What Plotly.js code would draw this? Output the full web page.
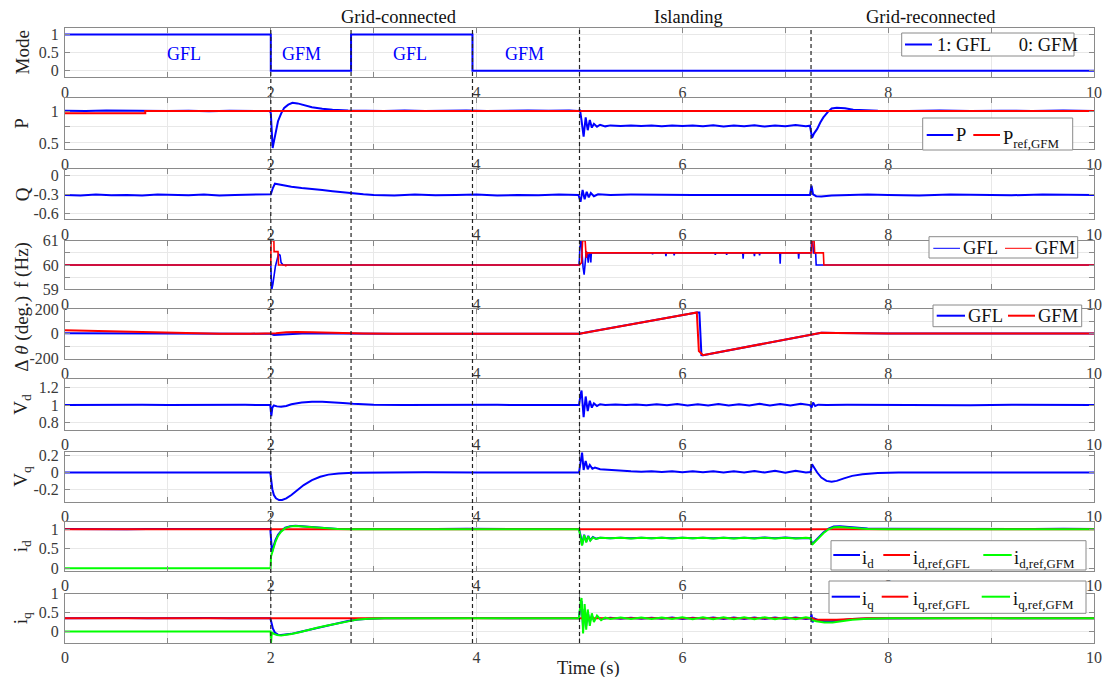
<!DOCTYPE html>
<html>
<head>
<meta charset="utf-8">
<script src="https://cdn.plot.ly/plotly-3.0.1.min.js"></script>
<style>
  html, body { margin: 0; padding: 0; background: #fff; }
  #chart { width: 1102px; height: 677px; }
</style>
</head>
<body>
<div id="chart"></div>
<script>
// ---- Series data: [time (s), value] ----
const modeSig = [[0,1],[2.0,1],[2.0,0],[2.78,0],[2.78,1],[3.96,1],[3.96,0],[10,0]];

const pMeas = [[0,1.005],[0.2,1.0],[0.4,1.008],[0.6,1.002],[0.8,1.005],[1.0,1.0],[1.2,1.006],[1.4,0.998],[1.6,1.005],[1.8,1.003],[1.99,1.0],
  [2.0,0.97],[2.008,0.6],[2.018,0.42],[2.03,0.52],[2.05,0.7],[2.07,0.84],[2.1,0.96],[2.13,1.05],[2.17,1.1],[2.21,1.13],[2.26,1.12],[2.32,1.09],[2.4,1.06],[2.5,1.035],[2.6,1.02],[2.75,1.01],[2.9,1.005],[3.1,1.0],[3.3,1.008],[3.5,1.0],[3.7,1.006],[3.9,1.01],[4.1,1.0],[4.3,1.007],[4.5,1.01],[4.7,1.005],[4.9,1.01],[4.99,1.0],
  [5.005,1.02],[5.02,0.85],[5.04,0.6],[5.06,0.9],[5.08,0.7],[5.1,0.86],[5.12,0.74],[5.14,0.8],[5.17,0.755],[5.2,0.785],[5.25,0.76],[5.3,0.775],[5.4,0.765],[5.5,0.775],[5.6,0.765],[5.7,0.772],[5.8,0.76],[5.9,0.775],[6.0,0.765],[6.1,0.772],[6.2,0.76],[6.3,0.778],[6.4,0.758],[6.5,0.772],[6.6,0.762],[6.7,0.778],[6.8,0.758],[6.9,0.775],[7.0,0.76],[7.1,0.782],[7.2,0.762],[7.24,0.77],
  [7.26,0.58],[7.28,0.65],[7.31,0.72],[7.34,0.82],[7.37,0.9],[7.41,0.98],[7.45,1.04],[7.5,1.05],[7.58,1.045],[7.66,1.02],[7.75,1.01],[7.9,1.005],[8.2,1.0],[8.5,1.008],[8.8,1.0],[9.1,1.006],[9.4,1.0],[9.7,1.007],[10,1.002]];
const pRefGfm = [[0,0.965],[0.78,0.965],[0.78,1.0],[10,1.0]];

const qMeas = [[0,-0.31],[0.15,-0.32],[0.3,-0.305],[0.45,-0.315],[0.6,-0.31],[0.75,-0.32],[0.9,-0.305],[1.05,-0.31],[1.2,-0.315],[1.35,-0.305],[1.5,-0.32],[1.65,-0.31],[1.8,-0.305],[1.99,-0.31],
  [2.0,-0.3],[2.02,-0.2],[2.04,-0.13],[2.07,-0.14],[2.1,-0.15],[2.15,-0.17],[2.2,-0.18],[2.3,-0.2],[2.4,-0.21],[2.5,-0.23],[2.6,-0.25],[2.7,-0.27],[2.8,-0.285],[2.9,-0.3],[3.0,-0.31],
  [3.2,-0.32],[3.4,-0.305],[3.6,-0.315],[3.8,-0.31],[4.0,-0.305],[4.2,-0.32],[4.4,-0.31],[4.6,-0.315],[4.8,-0.305],[4.99,-0.31],
  [5.01,-0.42],[5.03,-0.23],[5.05,-0.38],[5.07,-0.26],[5.09,-0.35],[5.11,-0.28],[5.14,-0.33],[5.18,-0.3],
  [5.3,-0.31],[5.5,-0.305],[5.7,-0.31],[5.9,-0.305],[6.1,-0.31],[6.3,-0.31],[6.5,-0.305],[6.7,-0.31],[6.9,-0.31],[7.1,-0.305],[7.24,-0.31],
  [7.255,-0.16],[7.27,-0.3],[7.3,-0.33],[7.35,-0.335],[7.45,-0.32],[7.6,-0.31],[7.8,-0.305],
  [8.0,-0.31],[8.3,-0.32],[8.6,-0.305],[8.9,-0.31],[9.2,-0.315],[9.5,-0.305],[9.8,-0.31],[10,-0.31]];

const fGfl = [[0,60],[2.0,60],[2.004,59.5],[2.01,59.0],[2.02,59.2],[2.035,59.7],[2.045,59.95],[2.06,60.2],[2.075,60.45],[2.09,60.4],[2.1,60.1],[2.12,60.0],[4.995,60],
  [5.0,60.3],[5.005,61],[5.015,61],[5.025,60.3],[5.035,59.9],[5.045,59.6],[5.055,60.2],[5.065,60.55],[5.075,60.5],[5.085,60.1],[5.095,60.5],[5.105,60.5],[5.11,60.1],[5.115,60.5],
  [5.706,60.5],[5.71,60.44],[5.714,60.5],
  [5.836,60.5],[5.84,60.36],[5.844,60.5],
  [5.916,60.5],[5.92,60.4],[5.924,60.5],
  [6.316,60.5],[6.32,60.42],[6.324,60.5],
  [6.426,60.5],[6.43,60.42],[6.434,60.5],
  [6.586,60.5],[6.59,60.26],[6.594,60.5],
  [6.696,60.5],[6.7,60.36],[6.704,60.5],
  [6.746,60.5],[6.75,60.4],[6.754,60.5],
  [6.946,60.5],[6.95,60.05],[6.954,60.5],
  [7.126,60.5],[7.13,60.26],[7.134,60.5],
  [7.25,60.5],[7.255,61],[7.265,61],[7.275,60.5],[7.295,60.5],[7.3,60.0],[10,60]];
const fGfm = [[0,60],[2.0,60],[2.002,61],[2.03,61],[2.032,60.55],[2.07,60.55],[2.075,60.0],[2.14,60],[2.145,59.95],[2.15,60],
  [5.0,60],[5.02,60.1],[5.03,61],[5.055,61],[5.065,60.3],[5.075,60.5],[7.255,60.5],[7.26,61],[7.28,61],[7.285,60.5],[7.37,60.5],[7.375,60],[10,60]];

const thGfl = [[0,5],[0.5,4],[1.0,2],[1.5,1],[2.0,0],[2.03,-10],[2.1,-6],[2.2,2],[2.35,5],[2.6,3],[2.9,1],[3.2,0],[5.0,0],[5.1,16],
  [6.14,172],[6.165,172],[6.185,-172],[6.2,-173],[7.25,-8],[7.35,8],[7.5,6],[8,3],[10,2]];
const thGfm = [[0,28],[0.3,22],[0.6,15],[0.9,9],[1.2,4],[1.5,1],[1.8,0],[2.0,0],[2.05,5],[2.15,13],[2.25,15],[2.4,12],[2.6,6],[2.9,2],[3.2,0],[5.0,0],
  [6.14,172],[6.16,-140],[6.2,-173],[7.25,-8],[7.35,8],[7.5,6],[8,3],[10,2]];

const vdMeas = [[0,1.0],[0.25,1.003],[0.5,0.998],[0.75,1.004],[1.0,1.0],[1.25,1.003],[1.5,0.998],[1.75,1.003],[1.995,1.0],
  [2.005,0.87],[2.015,0.97],[2.03,0.995],[2.06,0.985],[2.1,0.98],[2.15,0.99],[2.2,1.01],[2.3,1.03],[2.4,1.04],[2.5,1.04],[2.6,1.035],[2.7,1.025],[2.8,1.015],[2.9,1.008],[3.0,1.004],[3.3,1.0],[3.6,1.003],[3.9,0.998],[4.2,1.003],[4.5,1.0],[4.8,1.003],[4.995,1.0],
  [5.01,1.12],[5.02,1.17],[5.04,0.86],[5.06,1.1],[5.08,0.93],[5.1,1.05],[5.12,0.97],[5.14,1.02],[5.17,0.99],[5.2,1.01],[5.25,1.0],[5.35,1.008],[5.45,1.0],[5.55,1.006],[5.65,0.998],[5.75,1.01],[5.85,0.998],[5.95,1.012],[6.05,0.996],[6.15,1.01],[6.25,0.995],[6.35,1.012],[6.45,0.996],[6.55,1.01],[6.65,0.994],[6.75,1.014],[6.85,0.995],[6.95,1.012],[7.05,0.994],[7.15,1.016],[7.24,1.0],
  [7.255,0.97],[7.27,1.03],[7.29,0.99],[7.32,1.005],[7.4,1.0],[7.6,1.003],[8.0,1.0],[8.4,1.003],[8.8,0.999],[9.2,1.003],[9.6,1.0],[10,1.002]];

const vqMeas = [[0,0],[0.5,0.002],[1,0],[1.5,0.002],[1.995,0],
  [2.005,-0.1],[2.015,-0.2],[2.03,-0.27],[2.05,-0.31],[2.08,-0.33],[2.11,-0.33],[2.15,-0.31],[2.2,-0.27],[2.26,-0.21],[2.32,-0.15],[2.4,-0.09],[2.48,-0.05],[2.56,-0.025],[2.66,-0.012],[2.8,-0.004],[3.0,0],[3.5,0.002],[4,0],[4.5,0.002],[4.995,0],
  [5.01,0.12],[5.025,0.24],[5.04,0.03],[5.06,0.14],[5.08,0.04],[5.1,0.09],[5.125,0.045],[5.15,0.06],[5.2,0.04],[5.3,0.03],[5.4,0.02],[5.5,0.015],[5.6,0.01],[5.7,0.016],[5.8,0.005],[5.9,0.015],[6.0,0.004],[6.1,0.014],[6.2,0.003],[6.3,0.016],[6.4,0.002],[6.5,0.016],[6.6,0.0],[6.7,0.018],[6.8,0.0],[6.9,0.02],[7.0,-0.002],[7.1,0.02],[7.2,0.0],[7.245,0.005],
  [7.26,0.1],[7.28,0.06],[7.31,0.0],[7.35,-0.06],[7.4,-0.1],[7.45,-0.11],[7.5,-0.1],[7.57,-0.07],[7.65,-0.04],[7.75,-0.02],[7.9,-0.005],[8.1,0],[8.6,0.002],[9.1,0],[9.6,0.002],[10,0]];

const idMeas = [[0,1.01],[0.2,1.005],[0.4,1.012],[0.6,1.004],[0.8,1.01],[1.0,1.006],[1.2,1.012],[1.4,1.005],[1.6,1.01],[1.8,1.006],[1.995,1.01],
  [2.005,0.5],[2.012,0.42],[2.025,0.55],[2.045,0.72],[2.07,0.86],[2.1,0.96],[2.14,1.04],[2.19,1.08],[2.24,1.09],[2.3,1.08],[2.38,1.055],[2.46,1.035],[2.55,1.02],[2.65,1.01],[2.8,1.01],[3.0,1.006],[3.3,1.012],[3.6,1.005],[3.9,1.012],[4.2,1.006],[4.5,1.012],[4.8,1.008],[4.995,1.01],
  [5.01,0.85],[5.025,0.6],[5.045,0.86],[5.065,0.68],[5.085,0.83],[5.105,0.72],[5.13,0.8],[5.16,0.76],[5.2,0.785],[5.3,0.772],[5.4,0.782],[5.5,0.77],[5.6,0.782],[5.7,0.772],[5.8,0.784],[5.9,0.77],[6.0,0.782],[6.1,0.772],[6.2,0.784],[6.3,0.768],[6.4,0.785],[6.5,0.77],[6.6,0.786],[6.7,0.768],[6.8,0.788],[6.9,0.768],[7.0,0.788],[7.1,0.77],[7.2,0.786],[7.245,0.775],
  [7.26,0.62],[7.29,0.7],[7.33,0.82],[7.37,0.92],[7.42,1.02],[7.47,1.07],[7.53,1.075],[7.6,1.06],[7.7,1.035],[7.8,1.02],[7.95,1.012],[8.2,1.008],[8.5,1.014],[8.8,1.006],[9.1,1.013],[9.4,1.006],[9.7,1.012],[10,1.008]];
const idRefGfl = [[0,1.0],[10,1.0]];
const idRefGfm = [[0,0],[0.5,0.003],[1,0],[1.5,0.003],[1.998,0],
  [2.002,0.3],[2.02,0.48],[2.045,0.68],[2.07,0.83],[2.1,0.94],[2.14,1.03],[2.19,1.075],[2.24,1.085],[2.3,1.075],[2.38,1.05],[2.46,1.03],[2.55,1.015],[2.65,1.005],[2.8,1.0],[3.0,0.998],[3.5,1.0],[4.0,0.998],[4.5,1.0],[4.995,1.0],
  [5.01,0.82],[5.025,0.58],[5.045,0.85],[5.065,0.66],[5.085,0.82],[5.105,0.71],[5.13,0.79],[5.16,0.75],[5.2,0.78],[5.3,0.768],[5.4,0.78],[5.5,0.765],[5.6,0.78],[5.7,0.768],[5.8,0.782],[5.9,0.766],[6.0,0.78],[6.1,0.768],[6.2,0.782],[6.3,0.764],[6.4,0.783],[6.5,0.766],[6.6,0.784],[6.7,0.764],[6.8,0.786],[6.9,0.764],[7.0,0.786],[7.1,0.766],[7.2,0.784],[7.245,0.77],
  [7.26,0.6],[7.29,0.68],[7.33,0.8],[7.37,0.9],[7.42,1.0],[7.47,1.05],[7.53,1.06],[7.6,1.045],[7.7,1.02],[7.8,1.005],[8.0,1.0],[10,1.0]];

const iqMeas = [[0,0.35],[0.2,0.355],[0.4,0.345],[0.6,0.356],[0.8,0.35],[1.0,0.356],[1.2,0.346],[1.4,0.354],[1.6,0.348],[1.8,0.356],[1.995,0.35],
  [2.005,0.25],[2.02,0.08],[2.04,-0.03],[2.07,-0.08],[2.1,-0.09],[2.14,-0.085],[2.2,-0.06],[2.28,-0.01],[2.36,0.04],[2.45,0.1],[2.55,0.16],[2.65,0.22],[2.75,0.28],[2.85,0.32],[2.95,0.34],[3.1,0.35],[3.4,0.355],[3.7,0.348],[4.0,0.356],[4.3,0.35],[4.6,0.356],[4.995,0.35],
  [5.01,0.7],[5.02,0.8],[5.035,0.1],[5.05,0.6],[5.065,0.15],[5.08,0.5],[5.1,0.25],[5.12,0.42],[5.14,0.3],[5.17,0.38],[5.21,0.33],[5.3,0.36],[5.4,0.34],[5.5,0.365],[5.6,0.335],[5.7,0.365],[5.8,0.335],[5.9,0.368],[6.0,0.332],[6.1,0.366],[6.2,0.334],[6.3,0.37],[6.4,0.33],[6.5,0.368],[6.6,0.332],[6.7,0.372],[6.8,0.33],[6.9,0.37],[7.0,0.33],[7.1,0.372],[7.2,0.332],[7.245,0.35],
  [7.255,0.45],[7.265,0.24],[7.28,0.35],[7.32,0.3],[7.38,0.27],[7.45,0.27],[7.55,0.3],[7.65,0.33],[7.8,0.345],[8.0,0.35],[8.3,0.356],[8.6,0.346],[8.9,0.355],[9.2,0.347],[9.5,0.356],[9.8,0.35],[10,0.352]];
const iqRefGfl = [[0,0.35],[7.26,0.35],[7.29,0.31],[7.5,0.31],[7.7,0.34],[7.8,0.35],[10,0.35]];
const iqRefGfm = [[0,0],[0.5,0.003],[1,0],[1.5,0.003],[1.998,0],
  [2.002,-0.3],[2.01,-0.02],[2.03,-0.06],[2.06,-0.09],[2.1,-0.1],[2.15,-0.09],[2.2,-0.065],[2.28,-0.02],[2.36,0.04],[2.45,0.1],[2.55,0.16],[2.65,0.22],[2.75,0.28],[2.85,0.32],[2.95,0.34],[3.1,0.35],[3.5,0.352],[4.0,0.348],[4.5,0.352],[4.995,0.35],
  [5.01,0.75],[5.02,0.88],[5.035,-0.05],[5.05,0.72],[5.065,0.05],[5.08,0.58],[5.1,0.15],[5.12,0.48],[5.14,0.25],[5.17,0.42],[5.21,0.3],[5.25,0.37],[5.3,0.33],[5.4,0.37],[5.5,0.33],[5.6,0.372],[5.7,0.328],[5.8,0.372],[5.9,0.328],[6.0,0.374],[6.1,0.326],[6.2,0.374],[6.3,0.326],[6.4,0.376],[6.5,0.324],[6.6,0.376],[6.7,0.324],[6.8,0.378],[6.9,0.322],[7.0,0.378],[7.1,0.322],[7.2,0.378],[7.245,0.35],
  [7.26,0.3],[7.3,0.27],[7.38,0.24],[7.46,0.24],[7.55,0.27],[7.65,0.31],[7.8,0.34],[8.0,0.35],[8.5,0.352],[9,0.348],[9.5,0.352],[10,0.35]];

// ---- Events, phase labels and ticks ----
const eventTimes = [2.0, 2.78, 3.96, 5.0, 7.25];
const phaseLabels = ['Grid-connected', 'Islanding', 'Grid-reconnected'];
const phaseCenters = [3.25, 6.06, 8.42];
const modeLabels = ['GFL', 'GFM', 'GFL', 'GFM'];
const modeLabelTimes = [1.16, 2.30, 3.35, 4.47];

const xTickVals = [0, 2, 4, 6, 8, 10];
const xTickText = ['0', '2', '4', '6', '8', '10'];

const yTickVals = [[0,0.5,1],[0.5,1],[-0.6,-0.3,0],[59,60,61],[-200,0,200],[0.8,1,1.2],[-0.2,0,0.2],[0,0.5,1],[0,0.5,1]];
const yTickText = [['0','0.5','1'],['0.5','1'],['-0.6','-0.3','0'],['59','60','61'],['-200','0','200'],['0.8','1','1.2'],['-0.2','0','0.2'],['0','0.5','1'],['0','0.5','1']];
const yMinorStep = [null, 0.25, null, 0.5, 100, null, null, null, null];
const yTitles = ['Mode','P','Q','f\u00a0(Hz)','Δ\u00a0<i>θ</i>\u00a0(deg.)','V<sub>d</sub>','V<sub>q</sub>','i<sub>d</sub>','i<sub>q</sub>'];

// ---- Panel geometry (pixel rows inside the page) and value ranges ----
const W = 1102, H = 677;
const M = {l: 65, r: 8, t: 27, b: 34};
const plotW = W - M.l - M.r, plotH = H - M.t - M.b;
const panels = [
  {top: 27.5,  bot: 77.3,  range: [-0.18, 1.19]},
  {top: 98.3,  bot: 149.3, range: [0.4, 1.2]},
  {top: 169.3, bot: 219.3, range: [-0.7, 0.1]},
  {top: 240.7, bot: 289.3, range: [59, 61]},
  {top: 309.0, bot: 358.5, range: [-200, 200]},
  {top: 379.3, bot: 430.0, range: [0.71, 1.3]},
  {top: 451.7, bot: 501.7, range: [-0.35, 0.25]},
  {top: 521.5, bot: 571.0, range: [-0.07, 1.2]},
  {top: 593.5, bot: 643.0, range: [-0.3, 1.0]}
];
const py = px => (H - M.b - px) / plotH;
const pxr = px => (px - M.l) / plotW;

const FONT = 'Liberation Serif, "Times New Roman", serif';
const BLUE = '#0000ff', RED = '#ff0000', GREEN = '#00ff00';
const AX_LINE = '#8a8a8a', GRID = '#e8e8e8';
const TICK_FONT = {family: FONT, size: 16, color: '#3a3a3a'};

const xs = s => s.map(p => p[0]);
const ys = s => s.map(p => p[1]);

function line(series, panel, color, width) {
  const n = panel === 0 ? '' : String(panel + 1);
  return {
    x: xs(series), y: ys(series), type: 'scatter', mode: 'lines',
    xaxis: 'x' + n, yaxis: 'y' + n,
    line: {color: color, width: width || 2},
    showlegend: false, hoverinfo: 'skip'
  };
}

const traces = [
  line(modeSig, 0, BLUE),
  line(pMeas, 1, BLUE), line(pRefGfm, 1, RED),
  line(qMeas, 2, BLUE),
  line(fGfl, 3, BLUE, 1.6), line(fGfm, 3, RED, 1.6),
  line(thGfl, 4, BLUE), line(thGfm, 4, RED),
  line(vdMeas, 5, BLUE),
  line(vqMeas, 6, BLUE),
  line(idMeas, 7, BLUE), line(idRefGfl, 7, RED), line(idRefGfm, 7, GREEN),
  line(iqMeas, 8, BLUE), line(iqRefGfl, 8, RED), line(iqRefGfm, 8, GREEN)
];

const layout = {
  width: W, height: H,
  margin: M,
  paper_bgcolor: '#ffffff', plot_bgcolor: '#ffffff',
  font: {family: FONT, color: '#222'},
  showlegend: false,
  annotations: [], shapes: []
};

panels.forEach((p, i) => {
  const n = i === 0 ? '' : String(i + 1);
  const common = {
    showgrid: true, gridcolor: GRID, gridwidth: 1,
    zeroline: false, showline: true, linecolor: AX_LINE, linewidth: 1,
    mirror: 'ticks', ticks: 'inside', ticklen: 5, tickcolor: AX_LINE, tickwidth: 1,
    tickfont: TICK_FONT, automargin: false, fixedrange: true,
    ticklabeloverflow: 'allow'
  };
  layout['xaxis' + n] = Object.assign({}, common, {
    domain: [0, 1], range: [0, 10], anchor: 'y' + n,
    tickmode: 'array', tickvals: xTickVals, ticktext: xTickText,
    ticklabelstandoff: 0,
    minor: {tick0: 0, dtick: 1, ticks: 'inside', ticklen: 5, tickcolor: AX_LINE, showgrid: true, gridcolor: GRID}
  });
  const yax = Object.assign({}, common, {
    domain: [py(p.bot), py(p.top)], range: p.range, anchor: 'x' + n,
    tickmode: 'array', tickvals: yTickVals[i], ticktext: yTickText[i],
    ticklabelstandoff: 2
  });
  if (yMinorStep[i]) {
    yax.minor = {tick0: 0, dtick: yMinorStep[i], ticks: 'inside', ticklen: 5, tickcolor: AX_LINE, showgrid: true, gridcolor: GRID};
  }
  layout['yaxis' + n] = yax;
  layout.annotations.push({
    xref: 'paper', yref: 'paper', x: pxr(22), y: py((p.top + p.bot) / 2),
    xanchor: 'center', yanchor: 'middle', textangle: -90, showarrow: false,
    text: yTitles[i], font: {family: FONT, size: 19, color: '#222'}
  });
});

// phase names above the top panel
phaseLabels.forEach((t, i) => layout.annotations.push({
  xref: 'x', yref: 'paper', x: phaseCenters[i], y: py(17), xanchor: 'center', yanchor: 'middle',
  showarrow: false, text: t, font: {family: FONT, size: 18.5, color: '#111'}
}));
// control mode names inside the top panel
modeLabels.forEach((t, i) => layout.annotations.push({
  xref: 'x', yref: 'y', x: modeLabelTimes[i], y: 0.45, xanchor: 'center', yanchor: 'middle',
  showarrow: false, text: t, font: {family: FONT, size: 18, color: BLUE}
}));
// x-axis title
layout.annotations.push({
  xref: 'paper', yref: 'paper', x: pxr(588), y: py(668), xanchor: 'center', yanchor: 'middle',
  showarrow: false, text: 'Time (s)', font: {family: FONT, size: 18.5, color: '#222'}
});

// dashed event markers across every panel
eventTimes.forEach(t => layout.shapes.push({
  type: 'line', xref: 'x', yref: 'paper', x0: t, x1: t, y0: 0, y1: 1, layer: 'above',
  line: {color: '#222', width: 1.2, dash: '4px,3px'}
}));

// ---- Boxed keys, one per panel that has one (pixel positions) ----
const keys = [
  {box: [901.7, 33, 1074, 56], items: [
    {color: BLUE, w: 2, x0: 905, x1: 932, y: 44.5, tx: 936, text: '1: GFL\u00a0\u00a0\u00a0\u00a0\u00a0\u00a00: GFM'}]},
  {box: [922.7, 118, 1072.7, 150], items: [
    {color: BLUE, w: 2, x0: 926.7, x1: 953.3, y: 135, tx: 954.5, text: 'P'},
    {color: RED, w: 2, x0: 973.3, x1: 1000, y: 135, tx: 1001.5, text: 'P<sub>ref,GFM</sub>', sub: true}]},
  {box: [929, 236.7, 1077.7, 258], items: [
    {color: BLUE, w: 1, x0: 933.3, x1: 960, y: 248.3, tx: 962, text: 'GFL'},
    {color: RED, w: 1, x0: 1005, x1: 1031.7, y: 248.3, tx: 1034, text: 'GFM'}]},
  {box: [933, 305, 1081.7, 326.7], items: [
    {color: BLUE, w: 2, x0: 936.7, x1: 965, y: 315.7, tx: 967, text: 'GFL'},
    {color: RED, w: 2, x0: 1008, x1: 1035, y: 315.7, tx: 1036.5, text: 'GFM'}]},
  {box: [831, 540.7, 1086, 570], items: [
    {color: BLUE, w: 2, x0: 833.3, x1: 860, y: 555, tx: 861, text: 'i<sub>d</sub>', sub: true},
    {color: RED, w: 2, x0: 883.3, x1: 910, y: 555, tx: 912, text: 'i<sub>d,ref,GFL</sub>', sub: true},
    {color: GREEN, w: 2, x0: 983.3, x1: 1011.7, y: 555, tx: 1012.5, text: 'i<sub>d,ref,GFM</sub>', sub: true}]},
  {box: [829, 581, 1086, 613.3], items: [
    {color: BLUE, w: 2, x0: 831.7, x1: 860, y: 596.7, tx: 861, text: 'i<sub>q</sub>', sub: true},
    {color: RED, w: 2, x0: 881.7, x1: 908.3, y: 596.7, tx: 911.5, text: 'i<sub>q,ref,GFL</sub>', sub: true},
    {color: GREEN, w: 2, x0: 981.7, x1: 1010, y: 596.7, tx: 1012, text: 'i<sub>q,ref,GFM</sub>', sub: true}]}
];

keys.forEach(k => {
  layout.shapes.push({
    type: 'rect', xref: 'paper', yref: 'paper', layer: 'above',
    x0: pxr(k.box[0]), x1: pxr(k.box[2]), y0: py(k.box[3]), y1: py(k.box[1]),
    fillcolor: '#ffffff', line: {color: '#8a8a8a', width: 1}
  });
  k.items.forEach(it => {
    layout.shapes.push({
      type: 'line', xref: 'paper', yref: 'paper', layer: 'above',
      x0: pxr(it.x0), x1: pxr(it.x1), y0: py(it.y), y1: py(it.y),
      line: {color: it.color, width: it.w}
    });
    layout.annotations.push({
      xref: 'paper', yref: 'paper', x: pxr(it.tx), y: py(it.y),
      xanchor: 'left', yanchor: 'middle', yshift: it.sub ? -4 : 0,
      showarrow: false, borderpad: 0, text: it.text,
      font: {family: FONT, size: 18.5, color: '#111'}
    });
  });
});

Plotly.newPlot('chart', traces, layout, {staticPlot: true, displayModeBar: false});
</script>
</body>
</html>
